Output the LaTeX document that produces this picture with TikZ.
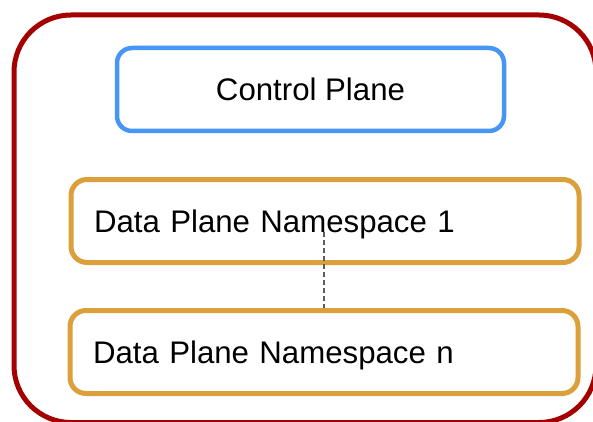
\documentclass[tikz,border=0pt]{standalone}
\usepackage{fontspec}
\setmainfont{Liberation Sans}
\definecolor{outerred}{HTML}{A50000}
\definecolor{ctrlblue}{HTML}{4796F5}
\definecolor{dataorange}{HTML}{DBA03C}
\definecolor{linkgray}{HTML}{5C5C5C}
\begin{document}
\begin{tikzpicture}[x=1pt, y=-1pt,
  label text/.style={font=\fontsize{31.2}{37}\selectfont, text height=22pt, text depth=0pt},
  ctrlbox/.style={draw=ctrlblue, line width=4.5pt, rounded corners=15pt,
    minimum width=387pt, minimum height=83pt, inner sep=0pt, label text},
  databox/.style={draw=dataorange, line width=5pt, rounded corners=16pt,
    minimum height=83pt, inner xsep=23pt, inner ysep=0pt,
    text width=462pt, align=left, label text},
  dashlink/.style={draw=linkgray, line width=1.4pt, dash pattern=on 5pt off 3pt}]
  \useasboundingbox (0,0) rectangle (593,422);
  \clip (0,0) rectangle (593,422);
  % enclosing cluster
  \draw[outerred, line width=5pt, rounded corners=57pt] (14,15) rectangle (596,422.5);
  % planes
  \node[ctrlbox] (ctrl) at (310.5,89.5) {Control Plane};
  \node[databox] (dp1) at (325,221) {Data Plane Namespace 1};
  \node[databox] (dpn) at (324,352) {Data Plane Namespace n};
  % dashed link between the namespaces
  \path (dp1.center) ++(-1pt,-11pt) coordinate (linkstart);
  \draw[dashlink] (linkstart) -- (dpn.north);
\end{tikzpicture}
\end{document}
